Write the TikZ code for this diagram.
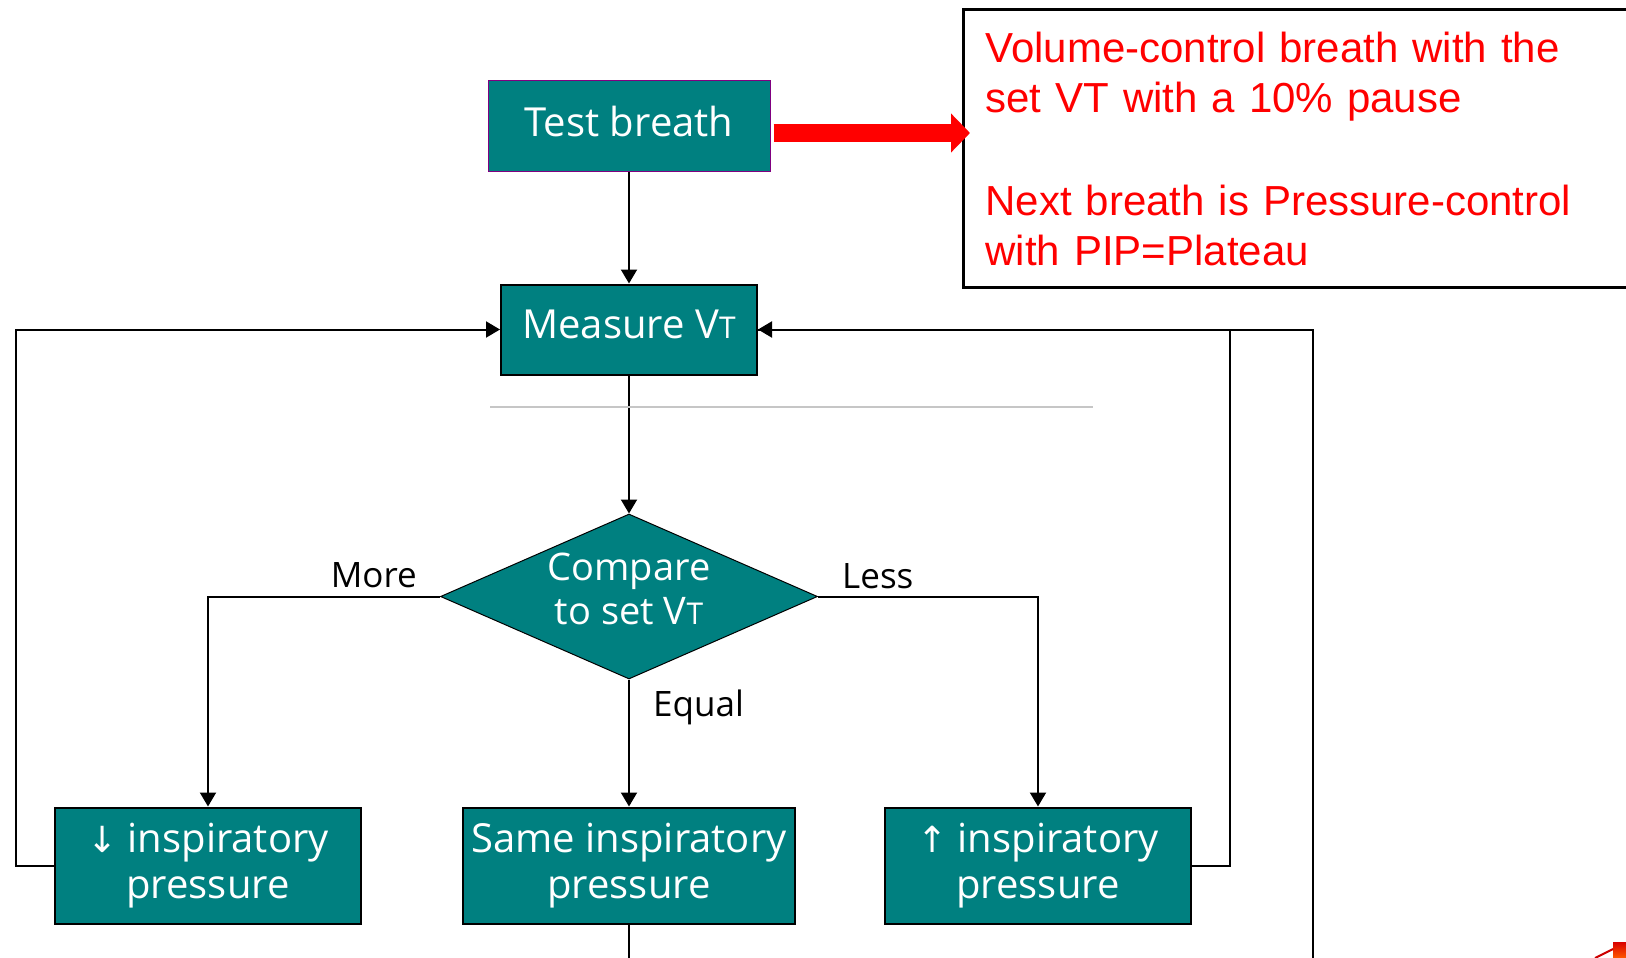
\documentclass[tikz,border=0pt]{standalone}
\usepackage{fontspec}
\setmainfont{Liberation Sans}
\newfontfamily\boxfont{Open Sans}
\newfontfamily\arrowfont{DejaVu Sans}
\usepackage{xcolor}
\usetikzlibrary{arrows.meta,positioning,shapes.geometric,calc}

\definecolor{boxteal}{RGB}{0,128,128}
\definecolor{edgepurple}{RGB}{128,0,128}
\newcommand{\smallt}[1]{{\fontsize{30}{30}\selectfont #1}}
\newcommand{\arrowglyph}[1]{{\arrowfont\fontsize{36}{36}\selectfont #1}}

\begin{document}
\begin{tikzpicture}[
  x=1pt, y=-1pt,
  box/.style={draw, line width=2pt, fill=boxteal, text=white, minimum height=90pt,
    font=\boxfont\fontsize{40}{46}\selectfont, align=center, inner sep=0pt},
  onebox/.style={box, text depth=10pt},
  lowbox/.style={box, minimum width=306pt, minimum height=116pt},
  decision/.style={box, diamond, aspect=2.3, line width=1pt, minimum width=377pt,
    minimum height=165pt, text depth=16pt, font=\boxfont\fontsize{38}{44}\selectfont},
  note/.style={draw, line width=3pt, text=red, font=\fontsize{42}{50}\selectfont,
    text width=680pt, align=left, inner xsep=22pt, minimum height=278pt},
  lbl/.style={font=\boxfont\fontsize{35}{40}\selectfont, inner sep=0pt},
  arr/.style={-{Triangle[length=14pt,width=16pt]}, line width=2pt},
  line/.style={line width=2pt},
  bigarr/.style={-{Triangle[length=19pt,width=38pt]}, line width=18pt, red},
]
\useasboundingbox (0,0) rectangle (1626,958);

% Top: test breath and the note
\node[onebox, minimum width=282pt, draw=edgepurple, line width=1pt] (test) at (629,126) {Test breath};
\node[note, anchor=north west] (note) at (962,8) {Volume-control breath with the\\
  set VT with a 10\% pause\\[53pt]
  Next breath is Pressure-control\\
  with PIP=Plateau};

% Middle column
\node[onebox, minimum width=256pt, below=112pt of test] (measure) {Measure V\smallt{T}};
\node[decision, below=138pt of measure] (cmp) {Compare\\to set V\smallt{T}};

% Bottom row
\node[lowbox, minimum width=332pt, below=127pt of cmp] (same) {Same inspiratory\\pressure};
\node[lowbox, left=100pt of same] (down) {\arrowglyph{↓} inspiratory\\pressure};
\node[lowbox, right=88pt of same] (up) {\arrowglyph{↑} inspiratory\\pressure};

% Branch labels
\node[lbl, above left=8pt and 23pt of cmp.west] (more) {More};
\node[lbl, above right=7pt and 24pt of cmp.east] (less) {Less};
\node[lbl, below right=10pt and 24pt of cmp.south] (equal) {Equal};

% Arrows
\coordinate (tip) at ($(note.west |- test.east)+(8,7)$);
\draw[bigarr] ($(test.east)+(3,7)$) -- (tip);
\draw[arr] (test) -- (measure);
\draw[arr] (measure) -- (cmp);
\draw[arr] (cmp.west) -| (down.north);
\draw[arr] (cmp.east) -| (up.north);
\draw[arr] (cmp.south) -- (same.north);
\draw[arr] (down.west) -- ++(-38,0) |- (measure.west);
\draw[arr] (up.east) -- ++(38,0) |- (measure.east);

% Lines running off the page
\coordinate[right=555pt of measure.east] (rloop);
\draw[line] (measure.east) -- (rloop) -- ++(0,640);
\draw[line] (same.south) -- ++(0,45);
\draw[gray!45, line width=1.5pt] (490,407) coordinate (gl) -- (1093,407) coordinate (gr);

% corner logo fragment
\shade[top color=red!85!black, bottom color=orange!70!red] (1613,942) rectangle (1626,958);
\draw[red!80!black, line width=2pt] (1595,958) -- (1613,949);
\end{tikzpicture}
\end{document}
